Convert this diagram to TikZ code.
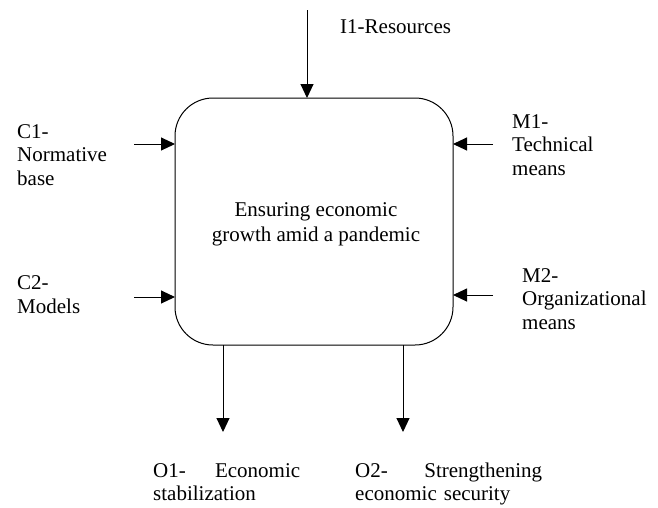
\documentclass[tikz,border=0pt]{standalone}
\usepackage{fontspec}
\setmainfont{Liberation Serif}
\usetikzlibrary{arrows.meta}
\begin{document}
\begin{tikzpicture}[x=1pt,y=-1pt,
  every node/.style={font=\fontsize{21}{23.5}\selectfont, inner sep=0pt},
  label/.style={anchor=base west, align=left},
  flow/.style={line width=1pt, -{Triangle[length=14pt,width=13pt]}},
  processbox/.style={draw, line width=1pt, rounded corners=38pt}]
  \useasboundingbox (0,0) rectangle (658,507);

  % central activity block
  \draw[processbox] (175,98) rectangle (453,345);
  \node[align=center, font=\fontsize{21}{25}\selectfont] (title) at (316,224) {Ensuring economic\\growth amid a pandemic};
  \coordinate (boxtop) at (307,98);
  \coordinate (c1in) at (175,144);
  \coordinate (c2in) at (175,297);
  \coordinate (m1in) at (453,144);
  \coordinate (m2in) at (453,295);
  \coordinate (o1out) at (223,345);
  \coordinate (o2out) at (403,345);

  % arrow tails
  \coordinate (i1src) at (307,10);
  \coordinate (c1src) at (134,144);
  \coordinate (c2src) at (134,297);
  \coordinate (m1src) at (493,144);
  \coordinate (m2src) at (493,295);
  \coordinate (o1end) at (223,432);
  \coordinate (o2end) at (403,432);

  % labels (multi-line ones are placed by the baseline of their last line)
  \node[label] (i1) at (340,33) {I1-Resources};
  \node[label] (c1) at (17,185) {C1-\\Normative\\base};
  \node[label] (c2) at (17,313) {C2-\\Models};
  \node[label] (m1) at (512,175) {M1-\\Technical\\means};
  \node[label] (m2) at (522,329) {M2-\\Organizational\\means};
  \node[label, text width=147pt] (o1) at (153,477) {O1-\hfill Economic\\stabilization};
  \node[label, text width=187pt] (o2) at (355,477) {O2-\hfill Strengthening\\economic security};

  % connectors
  \draw[flow] (i1src) -- (boxtop);
  \draw[flow] (c1src) -- (c1in);
  \draw[flow] (c2src) -- (c2in);
  \draw[flow] (m1src) -- (m1in);
  \draw[flow] (m2src) -- (m2in);
  \draw[flow] (o1out) -- (o1end);
  \draw[flow] (o2out) -- (o2end);
\end{tikzpicture}
\end{document}
